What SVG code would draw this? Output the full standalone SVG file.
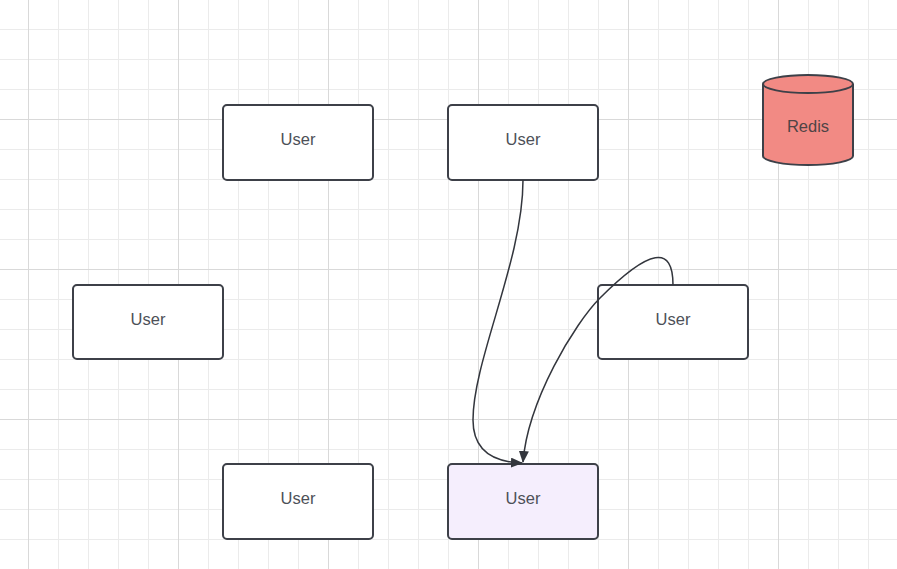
<svg xmlns="http://www.w3.org/2000/svg" width="897" height="569" viewBox="0 0 897 569">
<defs>
<marker id="arrow" viewBox="0 0 12 10" refX="11" refY="5" markerWidth="12" markerHeight="10" markerUnits="userSpaceOnUse" orient="auto">
<path d="M0,0 L12,5 L0,10 Z" fill="#33363d"/>
</marker>
<style>
.node{fill:#ffffff;stroke:#3d4048;stroke-width:2}
.sel{fill:#f5eefd}
.lbl{font-family:"Liberation Sans",Arial,sans-serif;font-size:16.5px;fill:#4d5058;text-anchor:middle}
.edge{fill:none;stroke:#33363d;stroke-width:1.5}
.minor{stroke:#ebebeb;stroke-width:1;fill:none}
.major{stroke:#d9d9d9;stroke-width:1;fill:none}
</style>
</defs>
<rect width="897" height="569" fill="#ffffff"/>
<g id="grid">
<path class="minor" d="M58.5,0V569M88.5,0V569M118.5,0V569M148.5,0V569M208.5,0V569M238.5,0V569M268.5,0V569M298.5,0V569M358.5,0V569M388.5,0V569M418.5,0V569M448.5,0V569M508.5,0V569M538.5,0V569M568.5,0V569M598.5,0V569M658.5,0V569M688.5,0V569M718.5,0V569M748.5,0V569M808.5,0V569M838.5,0V569M868.5,0V569M0,29.5H897M0,59.5H897M0,89.5H897M0,149.5H897M0,179.5H897M0,209.5H897M0,239.5H897M0,299.5H897M0,329.5H897M0,359.5H897M0,389.5H897M0,449.5H897M0,479.5H897M0,509.5H897M0,539.5H897"/>
<path class="major" d="M28.5,0V569M178.5,0V569M328.5,0V569M478.5,0V569M628.5,0V569M778.5,0V569M0,119.5H897M0,269.5H897M0,419.5H897"/>
</g>
<g id="node-user-1"><rect class="node" x="223" y="105" width="150" height="75" rx="4"/><text class="lbl" x="298" y="144.8">User</text></g>
<g id="node-user-2"><rect class="node" x="448" y="105" width="150" height="75" rx="4"/><text class="lbl" x="523" y="144.8">User</text></g>
<g id="node-user-3"><rect class="node" x="73" y="285" width="150" height="74" rx="4"/><text class="lbl" x="148" y="324.5">User</text></g>
<g id="node-user-4"><rect class="node" x="598" y="285" width="150" height="74" rx="4"/><text class="lbl" x="673" y="324.5">User</text></g>
<g id="node-user-5"><rect class="node" x="223" y="464" width="150" height="75" rx="4"/><text class="lbl" x="298" y="503.8">User</text></g>
<g id="node-user-6"><rect class="node sel" x="448" y="464" width="150" height="75" rx="4"/><text class="lbl" x="523" y="503.8">User</text></g>
<g id="node-redis">
<path d="M763,84 V156 A45,9 0 0 0 853,156 V84 A45,9 0 0 0 763,84 Z" fill="#f28a84" stroke="#3d4048" stroke-width="2"/>
<path d="M763,84 A45,9 0 0 0 853,84" fill="none" stroke="#3d4048" stroke-width="2"/>
<text class="lbl" x="808" y="131.5" style="fill:#4f4446">Redis</text>
</g>
<g id="connectors">
<path class="edge" d="M523,180 C523,260 473,360 473,420 C473,450 492,462 522,463" marker-end="url(#arrow)"/>
<path class="edge" d="M673,285 C673,245 650,248 600,298 C575,323 528,400 523,462" marker-end="url(#arrow)"/>
</g>
</svg>
